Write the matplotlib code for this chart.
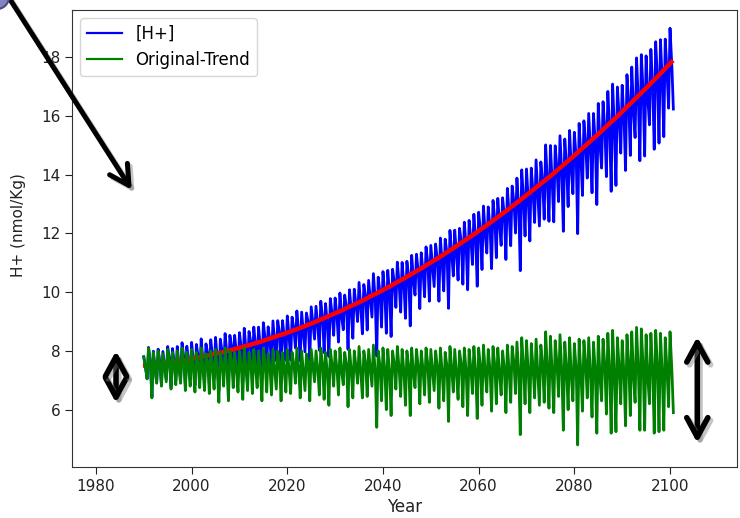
import numpy as np
import matplotlib
matplotlib.use("Agg")
import matplotlib.pyplot as plt
import matplotlib.patheffects as pe
from matplotlib.patches import Circle

# Yearly values, 1990-2100
years = np.arange(1990, 2101)

# Fitted long-term trend of [H+] (nmol/Kg)
trend = [
    7.50, 7.52, 7.54, 7.56, 7.58, 7.60, 7.63, 7.65, 7.68, 7.71,
    7.74, 7.77, 7.81, 7.84, 7.88, 7.91, 7.95, 7.99, 8.03, 8.08,
    8.12, 8.17, 8.21, 8.26, 8.31, 8.36, 8.42, 8.47, 8.53, 8.58,
    8.64, 8.70, 8.76, 8.82, 8.89, 8.95, 9.02, 9.09, 9.16, 9.23,
    9.30, 9.37, 9.45, 9.53, 9.60, 9.68, 9.76, 9.85, 9.93, 10.01,
    10.10, 10.19, 10.28, 10.37, 10.46, 10.55, 10.65, 10.74, 10.84, 10.94,
    11.04, 11.14, 11.24, 11.35, 11.45, 11.56, 11.67, 11.78, 11.89, 12.00,
    12.12, 12.23, 12.35, 12.47, 12.59, 12.71, 12.83, 12.96, 13.08, 13.21,
    13.34, 13.47, 13.60, 13.73, 13.86, 13.99, 14.13, 14.27, 14.41, 14.55,
    14.69, 14.84, 14.98, 15.13, 15.28, 15.42, 15.58, 15.73, 15.88, 16.03,
    16.19, 16.35, 16.51, 16.67, 16.83, 16.99, 17.16, 17.32, 17.49, 17.66,
    17.83,
]

# Seasonal departure from the trend within each year:
# the yearly high, a second (mid-season) level and the yearly low
resid_hi = [
    0.30, 0.60, 0.45, 0.50, 0.40, 0.55, 0.45, 0.50, 0.60, 0.45,
    0.55, 0.45, 0.60, 0.40, 0.50, 0.55, 0.45, 0.60, 0.50, 0.45,
    0.50, 0.60, 0.45, 0.55, 0.50, 0.60, 0.40, 0.55, 0.50, 0.45,
    0.55, 0.45, 0.60, 0.50, 0.40, 0.55, 0.50, 0.60, 0.45, 0.55,
    0.50, 0.60, 0.45, 0.55, 0.50, 0.65, 0.50, 0.55, 0.70, 0.50,
    0.60, 0.55, 0.50, 0.65, 0.55, 0.50, 0.60, 0.55, 0.50, 0.60,
    0.55, 0.50, 0.60, 0.45, 0.65, 0.55, 0.50, 0.60, 0.55, 0.65,
    0.60, 0.70, 0.55, 0.65, 0.60, 0.50, 0.70, 0.65, 0.80, 0.95,
    0.85, 0.75, 0.90, 0.70, 1.15, 1.00, 0.85, 1.05, 0.80, 0.95,
    0.75, 0.90, 0.85, 0.95, 0.80, 1.00, 0.90, 1.10, 1.20, 0.95,
    0.85, 1.05, 1.15, 1.30, 1.25, 1.05, 1.10, 1.20, 1.10, 0.95,
    1.15,
]
resid_mid = [
    -0.10, 0.05, -0.20, 0.00, -0.15, 0.10, -0.05, -0.20, 0.05, -0.10,
    -0.15, 0.00, -0.20, 0.05, -0.10, -0.25, 0.00, -0.15, 0.10, -0.20,
    -0.05, -0.20, 0.05, -0.15, -0.25, 0.00, -0.10, -0.20, 0.05, -0.15,
    -0.20, 0.00, -0.15, -0.25, 0.05, -0.10, -0.20, 0.00, -0.30, -0.05,
    -0.15, -0.25, 0.00, -0.20, -0.10, -0.30, 0.05, -0.15, -0.25, -0.05,
    -0.20, -0.30, 0.00, -0.15, -0.25, -0.05, -0.30, -0.10, -0.20, 0.00,
    -0.25, -0.10, -0.30, -0.05, -0.20, -0.35, 0.00, -0.25, -0.15, -0.30,
    -0.10, -0.30, -0.20, -0.05, -0.35, -0.15, -0.25, 0.05, -0.30, -0.10,
    -0.30, -0.15, -0.40, -0.05, -0.25, -0.35, 0.00, -0.30, -0.20, -0.45,
    -0.15, -0.35, -0.05, -0.40, -0.25, -0.50, -0.10, -0.30, -0.45, -0.20,
    -0.35, -0.05, -0.45, -0.25, -0.10, -0.50, -0.30, -0.15, -0.40, -0.25,
    -0.20,
]
resid_lo = [
    -0.45, -1.10, -0.60, -0.70, -0.55, -0.80, -0.65, -0.60, -0.85, -0.70,
    -0.90, -0.75, -0.85, -0.95, -0.80, -1.25, -0.70, -1.20, -0.75, -0.90,
    -1.15, -0.85, -0.95, -0.75, -1.20, -0.90, -1.00, -0.80, -1.20, -0.90,
    -0.95, -0.60, -1.10, -0.85, -1.20, -0.55, -1.00, -1.15, -1.35, -0.70,
    -1.00, -0.65, -1.40, -1.10, -0.60, -1.10, -1.05, -0.70, -2.10, -1.20,
    -1.50, -1.70, -0.80, -1.05, -1.35, -1.70, -0.75, -1.30, -1.00, -1.25,
    -0.85, -1.45, -1.20, -1.90, -0.90, -1.15, -1.40, -1.70, -0.95, -1.80,
    -1.35, -0.90, -1.55, -1.30, -1.00, -1.60, -1.25, -0.95, -2.35, -1.30,
    -1.60, -1.10, -1.35, -1.25, -1.45, -1.60, -1.05, -2.20, -1.50, -1.20,
    -2.70, -1.55, -1.10, -1.75, -2.30, -1.20, -1.65, -2.30, -2.25, -1.30,
    -2.05, -1.70, -1.25, -2.20, -2.20, -1.30, -2.30, -2.25, -2.20, -1.40,
    -1.60,
]
resid_base = 7.5  # level the detrended series is plotted around

x_ticks = [1980, 2000, 2020, 2040, 2060, 2080, 2100]
y_ticks = [6, 8, 10, 12, 14, 16, 18]

trend = np.array(trend)

# interleave high / mid / low of every year into one time series
n = len(years)
t = np.empty(3 * n)
t[0::3] = years + 0.0
t[1::3] = years + 0.4
t[2::3] = years + 0.7
resid = np.empty(3 * n)
resid[0::3] = resid_hi
resid[1::3] = resid_mid
resid[2::3] = resid_lo
trend3 = np.repeat(trend, 3)

h_plus = trend3 + resid
detrended = resid_base + resid

fig = plt.figure(figsize=(7.4, 5.18), dpi=100)
ax = fig.add_axes([72 / 740, 1 - 467 / 518, (737 - 72) / 740, (467 - 10) / 518])

ax.plot(t, h_plus, color="#0000ff", lw=2.0, label="[H+]", zorder=2)
ax.plot(years + 0.3, trend, color="#ff0000", lw=3.2, zorder=3)
ax.plot(t, detrended, color="#008000", lw=2.0, label="Original-Trend", zorder=4)

ax.set_xlim(1975, 2114)
ax.set_ylim(4.05, 19.6)
ax.set_xticks(x_ticks)
ax.set_yticks(y_ticks)
ax.tick_params(labelsize=11, length=5, colors="#222222")
ax.set_xlabel("Year", fontsize=12, color="#222222", labelpad=3)
ax.set_ylabel("H+ (nmol/Kg)", fontsize=11, color="#222222")
ax.yaxis.set_label_coords(-0.069, 0.53)
for s in ax.spines.values():
    s.set_color("#333333")

leg = ax.legend(loc="upper left", fontsize=12, handlelength=2.1,
                edgecolor="#cccccc", fancybox=True, borderaxespad=0.5)
for line in leg.get_lines():
    line.set_linewidth(1.6)

# annotation arrows
shadow = [pe.SimpleLineShadow(offset=(2, -2), shadow_color="gray", alpha=0.45),
          pe.Normal()]
head = "head_length=0.7,head_width=0.38"

ax.annotate("", xy=(1987.5, 13.48), xycoords="data",
            xytext=(4, 528), textcoords="figure pixels",
            arrowprops=dict(arrowstyle="->," + head, lw=3.6, color="black",
                            shrinkA=0, shrinkB=0, mutation_scale=20,
                            path_effects=shadow),
            annotation_clip=False)

ax.annotate("", xy=(1984.2, 8.0), xytext=(1984.2, 6.23),
            arrowprops=dict(arrowstyle="<->," + head, lw=4, color="black",
                            shrinkA=0, shrinkB=0, mutation_scale=20,
                            path_effects=shadow),
            annotation_clip=False)

ax.annotate("", xy=(2105.7, 8.48), xytext=(2105.7, 4.87),
            arrowprops=dict(arrowstyle="<->," + head, lw=4, color="black",
                            shrinkA=0, shrinkB=0, mutation_scale=20,
                            path_effects=shadow),
            annotation_clip=False)

# small marker at the corner where the pointer starts
fig.patches.append(Circle((-3, 521), 12, transform=None, facecolor="#8383c2",
                          edgecolor="#4a4a8a", lw=1.5, zorder=0))

fig.savefig("out.png", dpi=100)
